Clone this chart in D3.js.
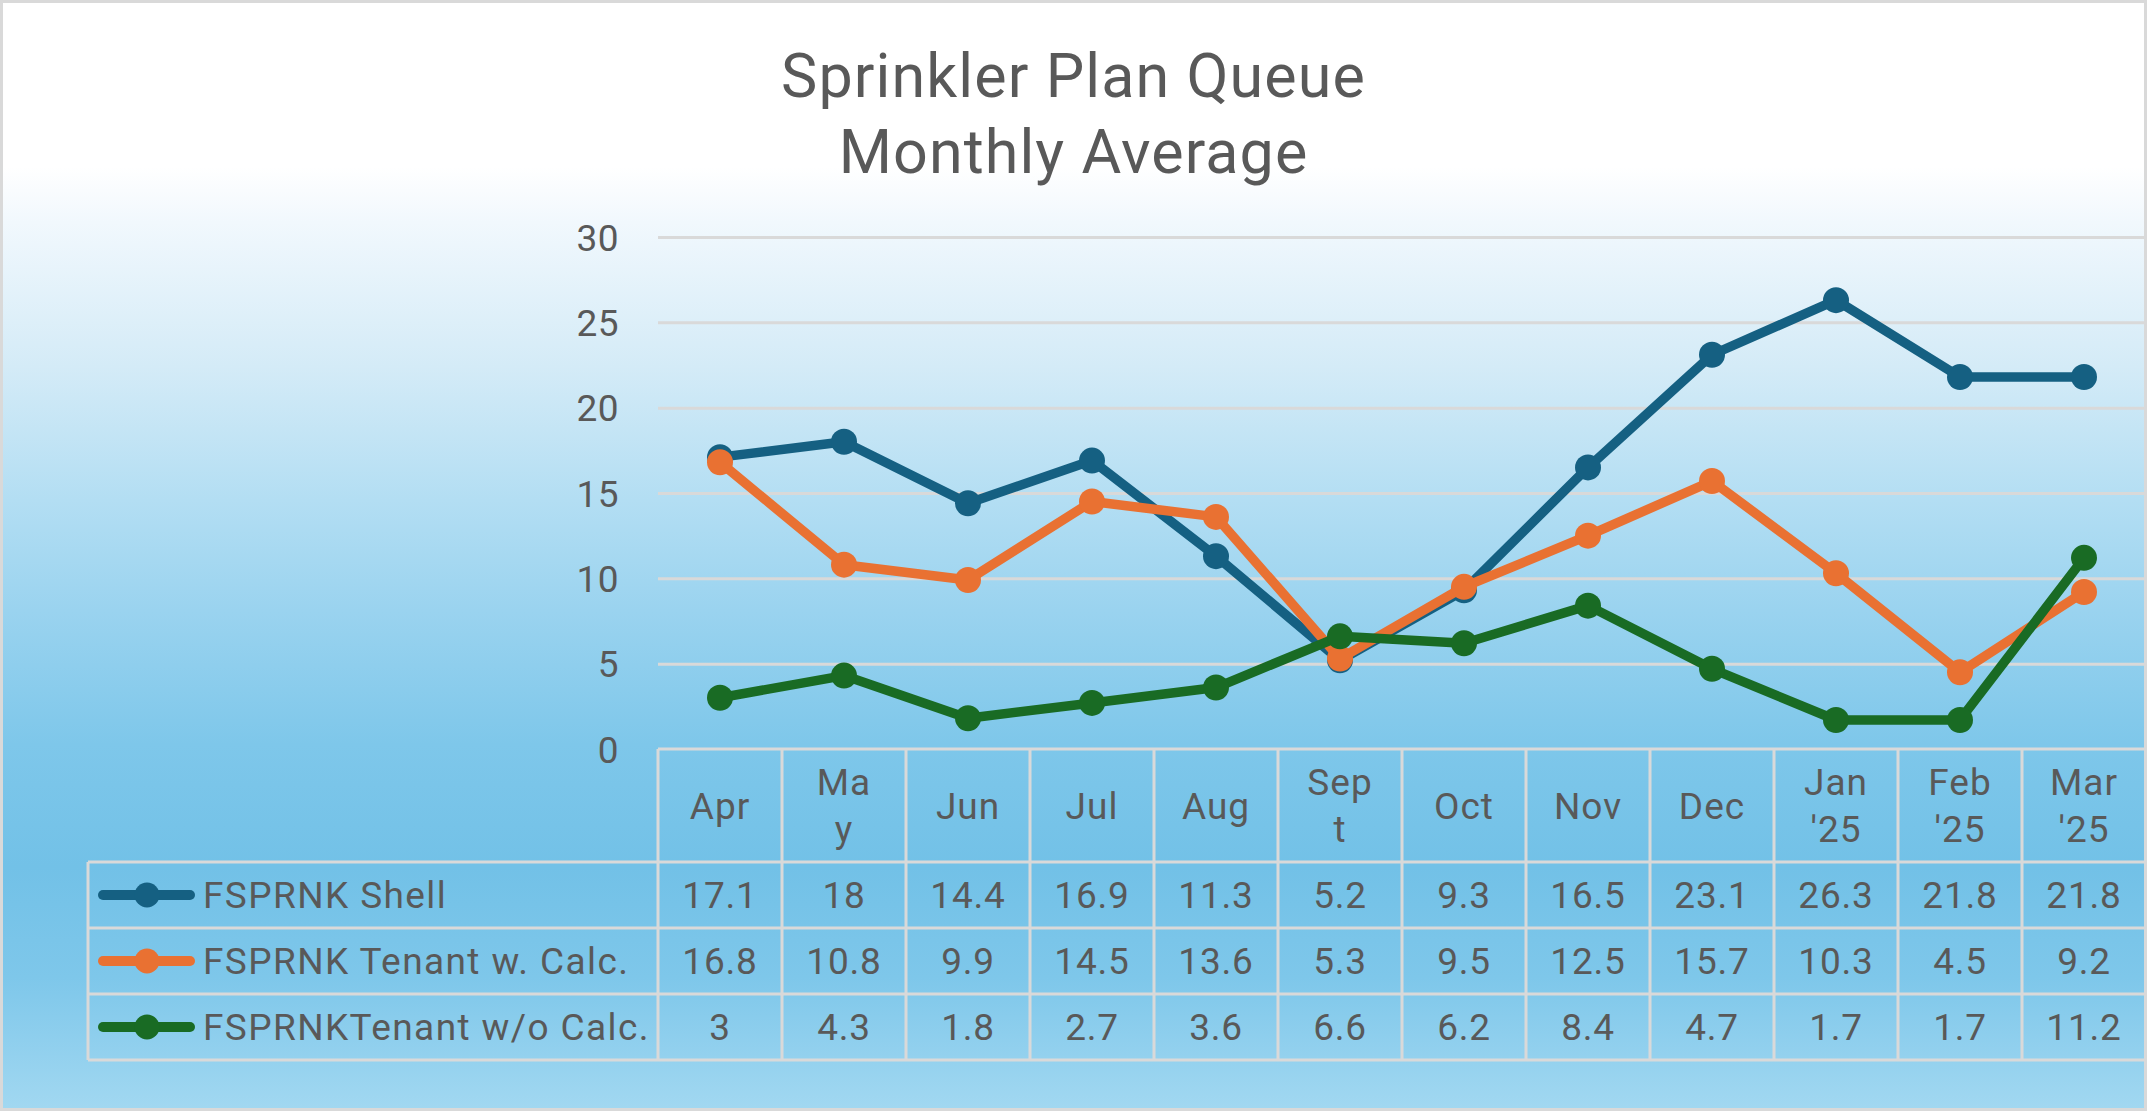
<!DOCTYPE html>
<html>
<head>
<meta charset="utf-8">
<script src="https://cdn.jsdelivr.net/npm/d3@7"></script>
<style>
  html, body { margin: 0; padding: 0; background: #ffffff; }
  svg { display: block; }
  text { font-family: Roboto, "Open Sans", sans-serif; fill: #595959; }
</style>
</head>
<body>
<svg id="chart" width="2147" height="1111"></svg>
<script>
// ---- data ----
const titleLines = ["Sprinkler Plan Queue", "Monthly Average"];
const categories = ["Apr", "May", "Jun", "Jul", "Aug", "Sept", "Oct", "Nov", "Dec", "Jan '25", "Feb '25", "Mar '25"];
const tickLabels = ["Apr", "Ma\ny", "Jun", "Jul", "Aug", "Sep\nt", "Oct", "Nov", "Dec", "Jan\n'25", "Feb\n'25", "Mar\n'25"];
const seriesNames = ["FSPRNK Shell", "FSPRNK Tenant w. Calc.", "FSPRNKTenant w/o Calc."];
const shellValues = [17.1, 18, 14.4, 16.9, 11.3, 5.2, 9.3, 16.5, 23.1, 26.3, 21.8, 21.8];
const tenantCalcValues = [16.8, 10.8, 9.9, 14.5, 13.6, 5.3, 9.5, 12.5, 15.7, 10.3, 4.5, 9.2];
const tenantNoCalcValues = [3, 4.3, 1.8, 2.7, 3.6, 6.6, 6.2, 8.4, 4.7, 1.7, 1.7, 11.2];
const yTicks = [0, 5, 10, 15, 20, 25, 30];
const seriesColors = ["#156082", "#E97132", "#196B24"];

const seriesData = [shellValues, tenantCalcValues, tenantNoCalcValues];

// ---- layout ----
const W = 2147, H = 1111;
const plotLeft = 658, plotRight = 2146, plotTop = 237, plotBottom = 749;
const headerBottom = 862, rowH = 66;
const legendLeft = 88;
const gridColor = "#D9D9D9";
const fontSize = 37;

const svg = d3.select("#chart");

// background gradient
const defs = svg.append("defs");
const grad = defs.append("linearGradient").attr("id", "bg")
  .attr("x1", 0).attr("y1", 0).attr("x2", 0).attr("y2", 1);
[[0, "#ffffff"], [0.15, "#ffffff"], [0.2, "#f1f8fd"], [0.33, "#d4ebf7"], [0.45, "#b3def3"],
 [0.55, "#9ad3ef"], [0.67, "#7ec7ea"], [0.78, "#72c1e7"], [0.88, "#7ec7ea"], [1, "#a2d8f1"]]
  .forEach(([o, c]) => grad.append("stop").attr("offset", o).attr("stop-color", c));

svg.append("rect").attr("x", 0).attr("y", 0).attr("width", W).attr("height", H).attr("fill", "url(#bg)");

// scales
const x = d3.scaleBand().domain(categories).range([plotLeft, plotRight]).padding(0);
const y = d3.scaleLinear().domain([0, 30]).range([plotBottom, plotTop]);

// title
const title = svg.append("text").attr("text-anchor", "middle").style("font-size", "61px")
  .style("letter-spacing", "1.1px");
titleLines.forEach((t, i) => {
  title.append("tspan").attr("x", W / 2).attr("y", 97 + i * 76).text(t);
});

// gridlines
const yAxis = d3.axisLeft(y).tickValues(yTicks).tickSize(-(plotRight - plotLeft)).tickPadding(39);
const gy = svg.append("g").attr("transform", `translate(${plotLeft},0)`).call(yAxis);
gy.select(".domain").remove();
gy.selectAll(".tick line").attr("stroke", gridColor).attr("stroke-width", 3)
  .attr("display", d => d === 0 ? "none" : null);
gy.selectAll(".tick text").style("font-size", fontSize + "px").attr("fill", "#595959")
  .style("font-family", "Roboto, sans-serif").style("letter-spacing", "0.5px").attr("dy", "0.36em");

// data table
const tbl = svg.append("g");
const tableBottom = headerBottom + rowH * seriesData.length;
// header labels
categories.forEach((c, i) => {
  const lines = tickLabels[i].split("\n");
  const cx = x(c) + x.bandwidth() / 2;
  const cy = (plotBottom + headerBottom) / 2;
  const lh = 47;
  const t = tbl.append("text").attr("text-anchor", "middle").style("font-size", fontSize + "px")
    .style("letter-spacing", "1px");
  lines.forEach((ln, k) => {
    t.append("tspan").attr("x", cx)
      .attr("y", cy - (lines.length - 1) * lh / 2 + k * lh + 13).text(ln);
  });
});
// values
seriesData.forEach((vals, s) => {
  const cy = headerBottom + rowH * s + rowH / 2;
  vals.forEach((v, i) => {
    tbl.append("text").attr("text-anchor", "middle").style("font-size", fontSize + "px")
      .style("letter-spacing", "0.8px")
      .attr("x", x(categories[i]) + x.bandwidth() / 2).attr("y", cy + 13).text(v);
  });
  // legend key
  tbl.append("line").attr("x1", 98 + 5).attr("x2", 195 - 5).attr("y1", cy).attr("y2", cy)
    .attr("stroke", seriesColors[s]).attr("stroke-width", 10).attr("stroke-linecap", "round");
  tbl.append("circle").attr("cx", 147).attr("cy", cy).attr("r", 12.5).attr("fill", seriesColors[s]);
  tbl.append("text").attr("x", 203).attr("y", cy + 13).style("font-size", fontSize + "px")
    .style("letter-spacing", "1.4px").text(seriesNames[s]);
});
// table borders
const border = svg.append("g").attr("stroke", gridColor).attr("stroke-width", 3).attr("fill", "none");
// horizontal
border.append("line").attr("x1", plotLeft).attr("x2", plotRight).attr("y1", plotBottom).attr("y2", plotBottom);
for (let r = 0; r <= seriesData.length; r++) {
  const yy = headerBottom + r * rowH;
  border.append("line").attr("x1", legendLeft).attr("x2", plotRight).attr("y1", yy).attr("y2", yy);
}
// vertical
categories.forEach((c, i) => {
  border.append("line").attr("x1", x(c)).attr("x2", x(c)).attr("y1", plotBottom).attr("y2", tableBottom);
});
border.append("line").attr("x1", plotRight).attr("x2", plotRight).attr("y1", plotBottom).attr("y2", tableBottom);
border.append("line").attr("x1", legendLeft).attr("x2", legendLeft).attr("y1", headerBottom).attr("y2", tableBottom);

// series lines + markers
const line = d3.line().x((d, i) => x(categories[i]) + x.bandwidth() / 2).y(d => y(d));
seriesData.forEach((vals, s) => {
  const g = svg.append("g");
  g.append("path").datum(vals).attr("d", line).attr("fill", "none")
    .attr("stroke", seriesColors[s]).attr("stroke-width", 9.5).attr("stroke-linejoin", "round").attr("stroke-linecap", "round");
  g.selectAll("circle").data(vals).join("circle")
    .attr("cx", (d, i) => x(categories[i]) + x.bandwidth() / 2).attr("cy", d => y(d))
    .attr("r", 13).attr("fill", seriesColors[s]);
});

// outer border
svg.append("rect").attr("x", 1.5).attr("y", 1.5).attr("width", W - 3).attr("height", H - 3)
  .attr("fill", "none").attr("stroke", gridColor).attr("stroke-width", 3);
</script>
</body>
</html>
